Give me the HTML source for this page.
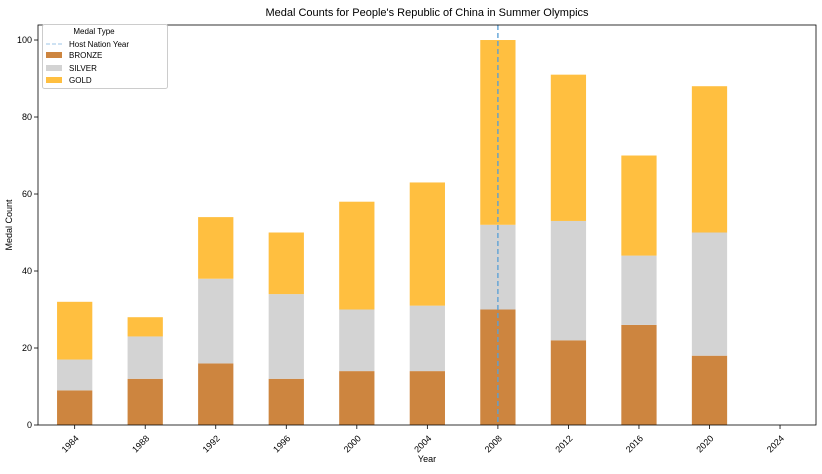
<!DOCTYPE html>
<html><head><meta charset="utf-8"><style>
body{margin:0;background:#fff;font-family:"Liberation Sans",sans-serif}
svg text{font-family:"Liberation Sans",sans-serif;fill:#000}
</style></head><body>
<svg id="c" width="822" height="469"></svg>
<script>
const years=["1984","1988","1992","1996","2000","2004","2008","2012","2016","2020","2024"];
const bronze=[9,12,16,12,14,14,30,22,26,18,0];
const silver=[8,11,22,22,16,17,22,31,18,32,0];
const gold=[15,5,16,16,28,32,48,38,26,38,0];
const yTicks=[0,20,40,60,80,100];
const hostYear="2008";
const L=38,R=816,T=25,B=425;
const xmin=-0.52,xmax=10.51,ymax=103.9;
const X=i=>L+(i-xmin)/(xmax-xmin)*(R-L);
const Y=v=>B-v/ymax*(B-T);
const s=document.getElementById('c');
const NS="http://www.w3.org/2000/svg";
function el(t,a,txt){const e=document.createElementNS(NS,t);for(const k in a)e.setAttribute(k,a[k]);if(txt!==undefined)e.textContent=txt;s.appendChild(e);return e;}
const bw=(X(1)-X(0))*0.5;
years.forEach((y,i)=>{
 const segs=[[bronze[i],0,'#CD853F','bronze'],[silver[i],bronze[i],'#D3D3D3','silver'],[gold[i],bronze[i]+silver[i],'#FFBF40','gold']];
 segs.forEach(([v,b,c,n])=>{if(v<=0)return;
  const r=el('rect',{x:X(i)-bw/2,y:Y(b+v),width:bw,height:Y(b)-Y(b+v),fill:c});
  
  });
 const tk=el('line',{x1:X(i),x2:X(i),y1:B,y2:B+4,stroke:'#000','stroke-width':0.8});
 
 
 const lb=el('text',{x:X(i),y:B+8,'font-size':9,'text-anchor':'end',transform:`rotate(-45 ${X(i)+3} ${B+8})`,dy:'0.6em'},y);
 
 
});
yTicks.forEach(v=>{
 const tk=el('line',{x1:L-4,x2:L,y1:Y(v),y2:Y(v),stroke:'#000','stroke-width':0.8});
 
 
 const lb=el('text',{x:L-6,y:Y(v)+3,'font-size':9,'text-anchor':'end'},v);
 
 
});
const hi=years.indexOf(hostYear);
const hl=el('line',{x1:X(hi),x2:X(hi),y1:T,y2:B,stroke:'#5aa0d6','stroke-opacity':0.9,'stroke-width':1.5,'stroke-dasharray':'5,3'});


const fr=el('rect',{x:L,y:T,width:R-L,height:B-T,fill:'none',stroke:'#000','stroke-width':0.8});


</script>
<svg width="822" height="469" style="position:absolute;left:0;top:0">
<text x="427" y="16" font-size="11" text-anchor="middle">Medal Counts for People's Republic of China in Summer Olympics</text>
<text x="427" y="462" font-size="9" text-anchor="middle">Year</text>
<text x="12" y="225" font-size="9" text-anchor="middle" transform="rotate(-90 12 225)">Medal Count</text>
<g>
<rect x="42.5" y="24.5" width="125" height="64" rx="2" fill="#fff" stroke="#ccc"/>
<text x="94" y="34" font-size="8" text-anchor="middle">Medal Type</text>
<line x1="46" x2="62" y1="44" y2="44" stroke="#5aa0d6" stroke-opacity="0.4" stroke-width="1.5" stroke-dasharray="4,2"/>
<text x="69" y="47" font-size="8">Host Nation Year</text>
<rect x="46" y="52" width="16" height="6" fill="#CD853F"/><text x="69" y="58" font-size="8">BRONZE</text>
<rect x="46" y="65" width="16" height="6" fill="#D3D3D3"/><text x="69" y="71" font-size="8">SILVER</text>
<rect x="46" y="77" width="16" height="6" fill="#FFBF40"/><text x="69" y="83" font-size="8">GOLD</text>
</g>
</svg>
</body></html>
